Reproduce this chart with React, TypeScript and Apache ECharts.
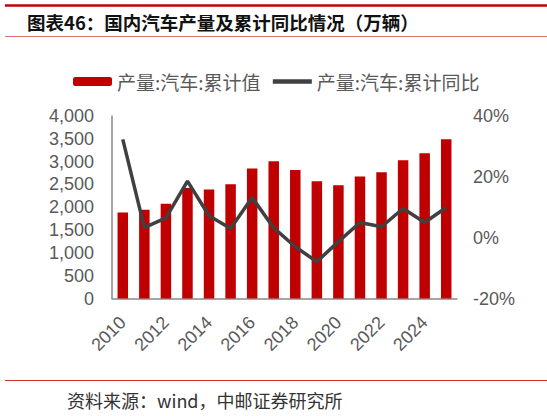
import React, { useEffect, useRef } from 'react'
import * as echarts from 'echarts'

const years = [
  '2010', '2011', '2012', '2013', '2014', '2015', '2016', '2017',
  '2018', '2019', '2020', '2021', '2022', '2023', '2024', '2025'
]
// 产量:汽车:累计值（万辆）
const production = [
  1886, 1943, 2074, 2424, 2389, 2505, 2849, 3009,
  2818, 2571, 2484, 2674, 2768, 3031, 3184, 3490
]
// 产量:汽车:累计同比（%）
const growth = [
  32.3, 3.3, 6.5, 18.6, 7.2, 3.0, 13.2, 3.2,
  -3.0, -7.9, -1.3, 5.0, 3.6, 9.6, 5.0, 9.9
]

const TITLE = '图表46：国内汽车产量及累计同比情况（万辆）'
const SOURCE = '资料来源：wind，中邮证券研究所'
const BAR_NAME = '产量:汽车:累计值'
const LINE_NAME = '产量:汽车:累计同比'

const labelFont = "'Liberation Sans', Arial, sans-serif"
const cjkFont = "'Noto Sans CJK SC', sans-serif"

const App: React.FC = () => {
  const chartRef = useRef<HTMLDivElement>(null)

  useEffect(() => {
    if (!chartRef.current) return
    const chart = echarts.init(chartRef.current, undefined, { renderer: 'svg' })

    const option: echarts.EChartsOption = {
      animation: false,
      backgroundColor: '#fff',
      graphic: [
        // 顶部深红线
        {
          type: 'line',
          shape: { x1: 5, y1: 5.5, x2: 547, y2: 5.5 },
          style: { stroke: '#C00000', lineWidth: 2.5 }
        },
        {
          type: 'text',
          left: 27,
          top: 13,
          style: {
            text: TITLE,
            font: `bold 18.5px ${cjkFont}`,
            fill: '#111'
          }
        },
        {
          type: 'line',
          shape: { x1: 5, y1: 36.5, x2: 547, y2: 36.5 },
          style: { stroke: '#E07070', lineWidth: 1 }
        },
        // 底部来源
        {
          type: 'line',
          shape: { x1: 5, y1: 380.5, x2: 547, y2: 380.5 },
          style: { stroke: '#D03030', lineWidth: 1 }
        },
        {
          type: 'text',
          left: 67,
          top: 391,
          style: {
            text: SOURCE,
            font: `18px ${cjkFont}`,
            fill: '#333'
          }
        }
      ],
      legend: {
        left: 68,
        top: 67,
        itemWidth: 39,
        itemHeight: 9,
        itemGap: 10,
        textStyle: {
          fontSize: 19,
          color: '#595959',
          fontFamily: cjkFont
        },
        data: [
          BAR_NAME,
          { name: LINE_NAME, itemStyle: { opacity: 0 }, lineStyle: { width: 4.5 } }
        ]
      },
      grid: {
        left: 112,
        right: 90,
        top: 116,
        bottom: 117.5
      },
      xAxis: {
        type: 'category',
        data: years,
        axisLine: { lineStyle: { color: '#898989', width: 1.5 } },
        axisTick: { show: false },
        axisLabel: {
          interval: 1,
          rotate: 45,
          margin: 21,
          fontSize: 18,
          color: '#595959',
          fontFamily: labelFont
        }
      },
      yAxis: [
        {
          type: 'value',
          min: 0,
          max: 4000,
          interval: 500,
          axisLine: { show: true, lineStyle: { color: '#898989', width: 1.5 } },
          axisTick: { show: false },
          splitLine: { show: false },
          axisLabel: {
            margin: 18,
            fontSize: 18,
            color: '#595959',
            fontFamily: labelFont,
            formatter: (v: number) => v.toLocaleString('en-US')
          }
        },
        {
          type: 'value',
          min: -20,
          max: 40,
          interval: 20,
          position: 'right',
          axisLine: { show: false },
          axisTick: { show: false },
          splitLine: { show: false },
          axisLabel: {
            margin: 16,
            fontSize: 18,
            color: '#595959',
            fontFamily: labelFont,
            formatter: '{value}%'
          }
        }
      ],
      series: [
        {
          name: BAR_NAME,
          type: 'bar',
          data: production,
          barWidth: 10.5,
          itemStyle: { color: '#C00000' }
        },
        {
          name: LINE_NAME,
          type: 'line',
          yAxisIndex: 1,
          data: growth,
          symbol: 'none',
          lineStyle: { color: '#404040', width: 3.5 },
          itemStyle: { color: '#404040' }
        }
      ]
    }

    chart.setOption(option)

    return () => {
      chart.dispose()
    }
  }, [])

  return (
    <div
      ref={chartRef}
      style={{
        position: 'absolute',
        left: 0,
        top: 0,
        width: '547px',
        height: '416px'
      }}
    />
  )
}

export default App
